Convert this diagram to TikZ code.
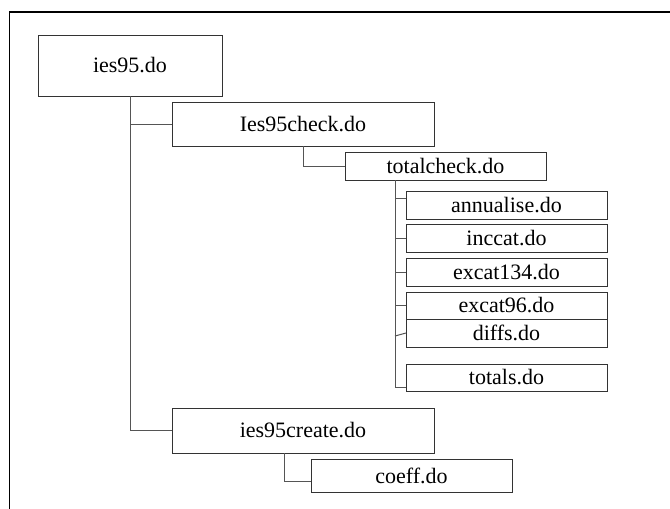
\documentclass[tikz,border=0pt]{standalone}
\usepackage{fontspec}
\setmainfont{Liberation Serif}
\usetikzlibrary{calc}
\definecolor{boxline}{HTML}{333333}
\definecolor{conline}{HTML}{555555}
\begin{document}
\begin{tikzpicture}[x=1pt,y=-1pt,
  filebox/.style={draw=boxline,line width=0.9pt,rectangle,inner sep=0pt,outer sep=0pt,
    font=\fontsize{22}{26}\selectfont,text=black},
  conn/.style={draw=conline,line width=1pt},
  frameline/.style={draw=black,line width=1.8pt}]
\useasboundingbox (0,0) rectangle (670,509);
\draw[frameline] (9.5,509) -- (9.5,12) -- (670,12);

\node[filebox,minimum width=184pt,minimum height=61pt] (ies95) at (130,65.5) {ies95.do};
\node[filebox,minimum width=262pt,minimum height=44pt] (check) at (303,124) {Ies95check.do};
\node[filebox,minimum width=201pt,minimum height=28pt] (totalcheck) at (445.5,166) {totalcheck.do};
\node[filebox,minimum width=201pt,minimum height=28pt] (annualise) at (506.5,205) {annualise.do};
\node[filebox,minimum width=201pt,minimum height=28pt] (inccat) at (506.5,238) {inccat.do};
\node[filebox,minimum width=201pt,minimum height=28pt] (excat134) at (506.5,272) {excat134.do};
\node[filebox,minimum width=201pt,minimum height=27pt] (excat96) at (506.5,305.5) {excat96.do};
\node[filebox,minimum width=201pt,minimum height=28pt] (diffs) at (506.5,333) {diffs.do};
\node[filebox,minimum width=201pt,minimum height=27pt] (totals) at (506.5,377.5) {totals.do};
\node[filebox,minimum width=262pt,minimum height=45pt] (create) at (303,430.5) {ies95create.do};
\node[filebox,minimum width=201pt,minimum height=33pt] (coeff) at (411.5,475.5) {coeff.do};

% trunk from ies95
\draw[conn] (ies95.south) |- (create.west);
\draw[conn] (ies95.south |- check.west) -- (check.west);
% Ies95check -> totalcheck
\draw[conn] (check.south) |- (totalcheck.west);
% totalcheck branch
\coordinate (tb) at ($(totalcheck.south)+(-50.5,0)$);
\coordinate (ca) at ($(annualise.west)+(0,-7)$);
\coordinate (ct) at ($(totals.west)+(0,9.5)$);
\draw[conn] (tb) |- (ct);
\draw[conn] (tb |- ca) -- (ca);
\draw[conn] (tb |- inccat.west) -- (inccat.west);
\draw[conn] (tb |- excat134.west) -- (excat134.west);
\draw[conn] (tb |- excat96.west) -- (excat96.west);
\draw[conn] ($(tb |- diffs.west)+(0,3)$) -- (diffs.west);
% ies95create -> coeff
\coordinate (cb) at ($(create.south)+(-19,0)$);
\coordinate (cc) at ($(coeff.west)+(0,5.5)$);
\draw[conn] (cb) |- (cc);
\end{tikzpicture}
\end{document}
